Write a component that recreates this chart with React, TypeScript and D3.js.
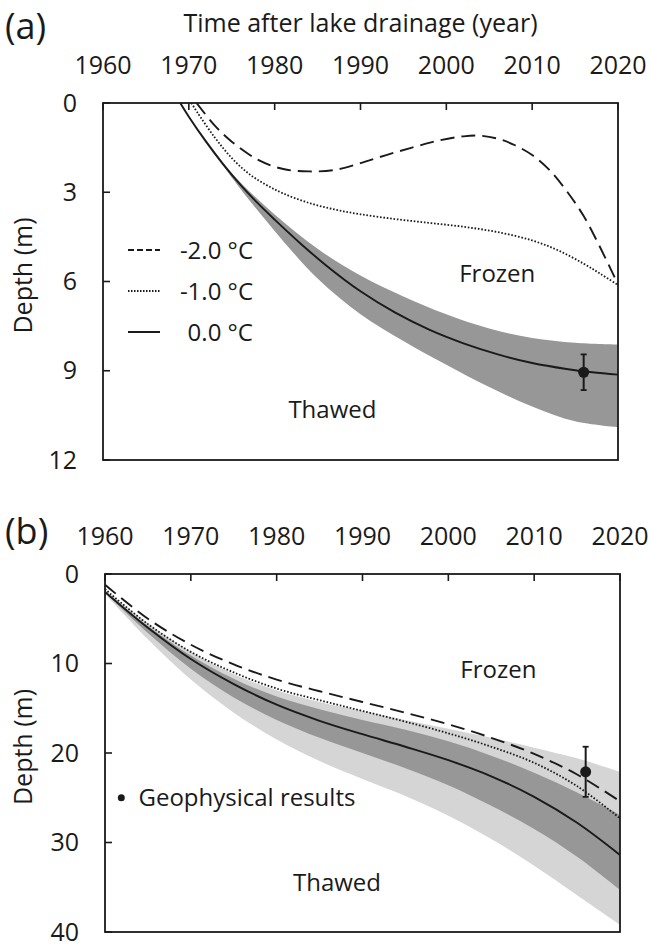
import * as d3 from 'd3'

// tick values
const yearTicks = [1960, 1970, 1980, 1990, 2000, 2010, 2020]
const depthTicksA = [0, 3, 6, 9, 12]
const depthTicksB = [0, 10, 20, 30, 40]

// panel (a): freezing front depth (year, m)
const aDashed: [number, number][] = [
  [1970.9, 0], [1973, 0.75], [1975, 1.3], [1978, 1.9], [1981, 2.22], [1984, 2.3], [1987, 2.25],
  [1990, 2.02], [1993, 1.75], [1996, 1.5], [1999, 1.27], [2002, 1.12], [2004, 1.1], [2006, 1.2],
  [2008, 1.42], [2010, 1.75], [2012, 2.25], [2014, 2.95], [2016, 3.8], [2018, 4.9], [2020, 6.1],
]
const aDotted: [number, number][] = [
  [1970.3, 0], [1971, 0.32], [1973, 1.15], [1975, 1.85], [1977, 2.38], [1979, 2.75], [1981, 3.04],
  [1984, 3.36], [1987, 3.58], [1990, 3.74], [1994, 3.9], [1998, 4.03], [2002, 4.16], [2006, 4.34],
  [2010, 4.62], [2013, 4.95], [2016, 5.4], [2018, 5.75], [2020, 6.12],
]
const aSolid: [number, number][] = [
  [1969, 0], [1970, 0.46], [1972, 1.3], [1974, 2.06], [1976, 2.74], [1978, 3.36], [1980, 3.92],
  [1983, 4.72], [1986, 5.46], [1990, 6.33], [1994, 7.04], [1998, 7.62], [2002, 8.08], [2006, 8.45],
  [2010, 8.74], [2014, 8.94], [2017, 9.05], [2020, 9.13],
]
const aBandYears = [1970.3, 1975, 1980, 1985, 1990, 1995, 2000, 2005, 2010, 2015, 2020]
const aBandUpper = [0.55, 2.35, 3.75, 4.9, 5.8, 6.5, 7.1, 7.58, 7.9, 8.06, 8.12]
const aBandLower = [0.55, 2.5, 4.3, 5.9, 7.1, 8.0, 8.8, 9.55, 10.2, 10.7, 10.9]
const aObs = { year: 2016, depth: 9.05, err: 0.6 }

// panel (b)
const bYears = [1960, 1965, 1970, 1975, 1980, 1985, 1990, 1995, 2000, 2005, 2010, 2015, 2020]
const bDashed = [1.2, 5.0, 7.9, 10.1, 11.8, 13.1, 14.3, 15.5, 16.8, 18.3, 20.1, 22.4, 25.4]
const bDotted = [1.7, 5.6, 8.7, 11.0, 12.8, 14.1, 15.3, 16.5, 17.8, 19.3, 21.1, 23.7, 27.3]
const bSolid = [2.0, 6.0, 9.5, 12.3, 14.6, 16.4, 17.9, 19.3, 20.8, 22.6, 24.9, 27.8, 31.4]
const bDarkUpper = [2.0, 5.8, 9.1, 11.7, 13.7, 15.1, 16.3, 17.4, 18.7, 20.3, 22.2, 24.4, 26.9]
const bDarkLower = [2.1, 6.6, 10.6, 13.8, 16.3, 18.3, 20.0, 21.7, 23.6, 25.9, 28.5, 31.6, 35.3]
const bLightUpper = [1.8, 5.5, 8.7, 11.2, 13.0, 14.3, 15.3, 16.3, 17.3, 18.3, 19.4, 20.6, 22.1]
const bLightLower = [2.2, 7.3, 11.8, 15.5, 18.5, 20.9, 22.9, 24.8, 27.0, 29.6, 32.6, 35.9, 39.2]
const bObs = { year: 2016, depth: 22.1, err: 2.8 }

const legendItems = [
  { label: '-2.0 °C', dash: '6,3', width: 1.8 },
  { label: '-1.0 °C', dash: '1.5,1.5', width: 1.8 },
  { label: '0.0 °C', dash: null, width: 2 },
]

const FONT = "'Open Sans', sans-serif"
const INK = '#1a1a1a'
const DARK = '#979797'
const LIGHT = '#d5d5d5'

const xA = d3.scaleLinear().domain([1960, 2020]).range([103, 618])
const yA = d3.scaleLinear().domain([0, 12]).range([103, 460])
const xB = d3.scaleLinear().domain([1960, 2020]).range([105, 620])
const yB = d3.scaleLinear().domain([0, 40]).range([574, 932])

const lineStyles = {
  dashed: { dash: '14,7', width: 1.9 },
  dotted: { dash: '1.6,1.8', width: 1.8 },
  solid: { dash: undefined, width: 1.9 },
}

function Frame({ x, y, ticksY, tickLabelY }: any) {
  const [x0, x1] = x.range()
  const [y0, y1] = y.range()
  return (
    <g>
      {yearTicks.map(t => (
        <g key={'x' + t}>
          <line x1={x(t)} x2={x(t)} y1={y0} y2={y0 + 7} stroke={INK} strokeWidth={1.6} />
          <text x={x(t)} y={tickLabelY} textAnchor="middle" fontSize={25} fontFamily={FONT} fill={INK}>{t}</text>
        </g>
      ))}
      {ticksY.map((t: number) => (
        <g key={'y' + t}>
          <line x1={x0} x2={x0 + 7} y1={y(t)} y2={y(t)} stroke={INK} strokeWidth={1.6} />
          <text x={x0 - 26} y={y(t)} dy="0.34em" textAnchor="end" fontSize={25} fontFamily={FONT} fill={INK}>{t}</text>
        </g>
      ))}
      <rect x={x0} y={y0} width={x1 - x0} height={y1 - y0} fill="none" stroke={INK} strokeWidth={1.8} />
      <text transform={`translate(23,${(y0 + y1) / 2 - 6}) rotate(-90)`} textAnchor="middle" dy="0.36em"
        fontSize={25} fontFamily={FONT} fill={INK}>Depth (m)</text>
    </g>
  )
}

function ObsPoint({ x, y, obs }: any) {
  const cx = x(obs.year)
  return (
    <g>
      <line x1={cx} x2={cx} y1={y(obs.depth - obs.err)} y2={y(obs.depth + obs.err)} stroke={INK} strokeWidth={2} />
      <line x1={cx - 3} x2={cx + 3} y1={y(obs.depth - obs.err)} y2={y(obs.depth - obs.err)} stroke={INK} strokeWidth={1.8} />
      <line x1={cx - 3} x2={cx + 3} y1={y(obs.depth + obs.err)} y2={y(obs.depth + obs.err)} stroke={INK} strokeWidth={1.8} />
      <circle cx={cx} cy={y(obs.depth)} r={5.5} fill={INK} />
    </g>
  )
}

export default function App() {
  const curve = d3.curveCatmullRom.alpha(0.5)
  const lineA = d3.line<[number, number]>().x(d => xA(d[0])).y(d => yA(d[1])).curve(curve)
  const bandA = d3.area<number>()
    .x((_, i) => xA(aBandYears[i]))
    .y0((_, i) => yA(aBandUpper[i]))
    .y1((_, i) => yA(aBandLower[i]))
    .curve(curve)
  const lineB = (vals: number[]) =>
    d3.line<number>().x((_, i) => xB(bYears[i])).y(d => yB(d)).curve(curve)(vals) || ''
  const areaB = (up: number[], lo: number[]) =>
    d3.area<number>().x((_, i) => xB(bYears[i])).y0((_, i) => yB(up[i])).y1((_, i) => yB(lo[i])).curve(curve)(up) || ''

  const [ax0, ax1] = xA.range()
  const [ay0, ay1] = yA.range()
  const [bx0, bx1] = xB.range()
  const [by0, by1] = yB.range()

  return (
    <div style={{ position: 'absolute', left: 0, top: 0 }}>
      <svg width={651} height={944} style={{ display: 'block', background: '#fff' }}>
        <defs>
          <clipPath id="clipA"><rect x={ax0} y={ay0} width={ax1 - ax0} height={ay1 - ay0} /></clipPath>
          <clipPath id="clipB"><rect x={bx0} y={by0} width={bx1 - bx0} height={by1 - by0} /></clipPath>
        </defs>

        {/* panel (a) */}
        <text x={5} y={39} fontSize={36} fontFamily={FONT} fill={INK}>(a)</text>
        <text x={(ax0 + ax1) / 2} y={32} textAnchor="middle" fontSize={25} fontFamily={FONT} fill={INK}>
          Time after lake drainage (year)
        </text>
        <g clipPath="url(#clipA)">
          <path d={bandA(aBandYears) || ''} fill={DARK} />
          <path d={lineA(aDashed) || ''} fill="none" stroke={INK} strokeWidth={lineStyles.dashed.width} strokeDasharray={lineStyles.dashed.dash} />
          <path d={lineA(aDotted) || ''} fill="none" stroke={INK} strokeWidth={lineStyles.dotted.width} strokeDasharray={lineStyles.dotted.dash} />
          <path d={lineA(aSolid) || ''} fill="none" stroke={INK} strokeWidth={lineStyles.solid.width} />
        </g>
        <ObsPoint x={xA} y={yA} obs={aObs} />
        <Frame x={xA} y={yA} ticksY={depthTicksA} tickLabelY={74} />
        {legendItems.map((it, i) => (
          <g key={it.label} transform={`translate(0,${250 + i * 41})`}>
            <line x1={128} x2={160} y1={0} y2={0} stroke={INK} strokeWidth={it.width} strokeDasharray={it.dash || undefined} />
            <text x={253} y={0} dy="0.36em" textAnchor="end" fontSize={24} fontFamily={FONT} fill={INK}>{it.label}</text>
          </g>
        ))}
        <text x={xA(2001.5)} y={yA(5.72)} dy="0.36em" fontSize={24} fontFamily={FONT} fill={INK}>Frozen</text>
        <text x={xA(1981.6)} y={yA(10.3)} dy="0.36em" fontSize={24} fontFamily={FONT} fill={INK}>Thawed</text>

        {/* panel (b) */}
        <text x={5} y={544} fontSize={36} fontFamily={FONT} fill={INK}>(b)</text>
        <g clipPath="url(#clipB)">
          <path d={areaB(bLightUpper, bLightLower)} fill={LIGHT} />
          <path d={areaB(bDarkUpper, bDarkLower)} fill={DARK} />
          <path d={lineB(bDashed)} fill="none" stroke={INK} strokeWidth={lineStyles.dashed.width} strokeDasharray={lineStyles.dashed.dash} />
          <path d={lineB(bDotted)} fill="none" stroke={INK} strokeWidth={lineStyles.dotted.width} strokeDasharray={lineStyles.dotted.dash} />
          <path d={lineB(bSolid)} fill="none" stroke={INK} strokeWidth={lineStyles.solid.width} />
        </g>
        <ObsPoint x={xB} y={yB} obs={bObs} />
        <Frame x={xB} y={yB} ticksY={depthTicksB} tickLabelY={545} />
        <circle cx={xB(1961.9)} cy={yB(25)} r={3.5} fill={INK} />
        <text x={xB(1963.9)} y={yB(25)} dy="0.36em" fontSize={24} fontFamily={FONT} fill={INK}>Geophysical results</text>
        <text x={xB(2001.4)} y={yB(10.7)} dy="0.36em" fontSize={24} fontFamily={FONT} fill={INK}>Frozen</text>
        <text x={xB(1981.9)} y={yB(34.5)} dy="0.36em" fontSize={24} fontFamily={FONT} fill={INK}>Thawed</text>
      </svg>
    </div>
  )
}
